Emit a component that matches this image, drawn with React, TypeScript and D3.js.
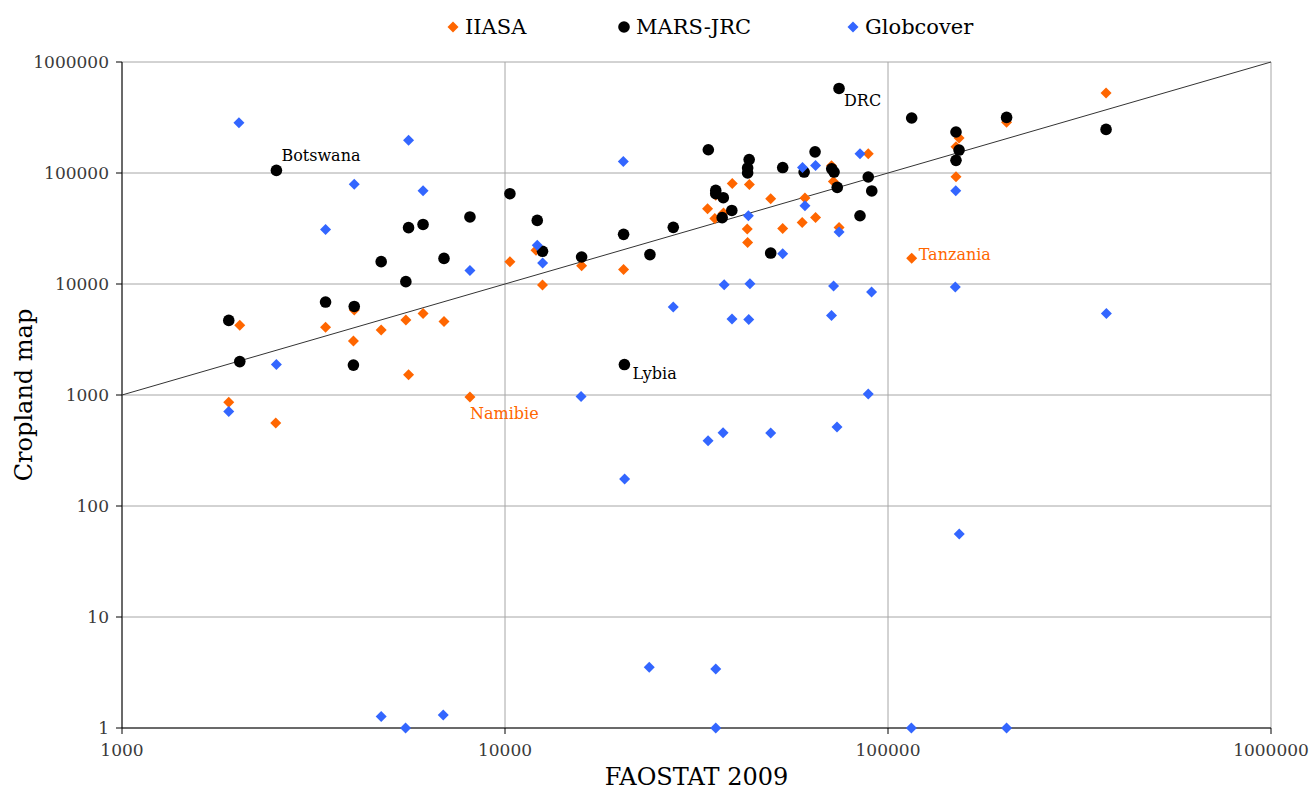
import * as d3 from 'd3';

// FAOSTAT 2009 (x) vs cropland map estimate (y)
const iiasaX = [1900, 2030, 2520, 3400, 4020, 4040, 4750, 5510, 5600, 6110, 6930, 8100, 10300, 12050, 12530, 15850, 20400, 33800, 35300, 35500, 37200, 39200, 43450, 42900, 43000, 49400, 53100, 59700, 60700, 64700, 72000, 71200, 74500, 88800, 115300, 153300, 150500, 150500, 204000, 371000];
const iiasaY = [860, 4240, 560, 4070, 3070, 5830, 3850, 4740, 1520, 5430, 4600, 960, 15900, 20100, 9800, 14600, 13500, 47700, 39000, 63000, 43600, 80600, 78900, 31300, 23700, 58700, 31700, 35900, 59600, 39800, 84000, 116000, 32300, 149000, 17100, 207000, 172000, 92600, 286000, 526000];

const marsX = [1900, 2030, 2530, 3400, 4040, 4020, 4750, 5510, 5600, 6110, 6930, 8100, 10300, 12140, 12530, 15850, 20400, 23900, 27500, 20500, 33950, 35500, 35500, 37150, 39100, 36900, 43400, 43000, 43000, 53100, 49400, 60400, 64500, 71300, 72300, 73700, 84500, 88800, 90700, 115300, 150500, 153300, 150500, 204000, 371000, 74500];
const marsY = [4700, 2000, 105500, 6880, 6280, 1860, 15900, 10500, 32200, 34400, 17000, 40200, 65100, 37400, 19700, 17500, 28000, 18400, 32400, 1880, 162000, 69700, 65100, 59900, 46000, 39600, 132000, 111000, 100000, 112000, 19000, 102000, 155000, 109000, 102000, 74200, 41200, 92000, 68900, 313000, 234000, 161000, 130000, 317000, 247000, 578000];

const globX = [1900, 2020, 2530, 3400, 4040, 4750, 5500, 5600, 6110, 6900, 8100, 12140, 12540, 15800, 20370, 20530, 23800, 27500, 33900, 35500, 35500, 37100, 37350, 39150, 43200, 43300, 43600, 49400, 53100, 59800, 60700, 64700, 71200, 72100, 73600, 74500, 84500, 88800, 90600, 115100, 150300, 149900, 153500, 204000, 371700];
const globY = [710, 284000, 1880, 31000, 79000, 1.27, 1, 197000, 69300, 1.31, 13250, 22300, 15450, 970, 127000, 175, 3.52, 6200, 387, 3.4, 1, 457, 9860, 4840, 41200, 4800, 10060, 455, 18750, 112000, 50700, 117000, 5210, 9590, 515, 29400, 149000, 1020, 8470, 1, 69300, 9400, 56, 1, 5430];

const noteNames = ['Botswana', 'DRC', 'Lybia', 'Namibie', 'Tanzania'];
const noteX = [2530, 74500, 20500, 8100, 115300];
const noteY = [105500, 578000, 1880, 960, 17100];
const noteSeries = ['mars', 'mars', 'mars', 'iiasa', 'iiasa'];

const xTicks = [1000, 10000, 100000, 1000000];
const yTicks = [1, 10, 100, 1000, 10000, 100000, 1000000];

const ORANGE = '#ff6600';
const BLUE = '#3366ff';
const FONT = '"DejaVu Serif", serif';

const W = 1310;
const H = 790;
const left = 122;
const right = 1271;
const top = 62;
const bottom = 728;

const x = d3.scaleLog().domain([1000, 1000000]).range([left, right]);
const y = d3.scaleLog().domain([1, 1000000]).range([bottom, top]);

function diamond(cx: number, cy: number, r: number) {
  return `M${cx},${cy - r}L${cx + r},${cy}L${cx},${cy + r}L${cx - r},${cy}Z`;
}

// offsets for the annotation text relative to its point
const noteDx = [5, 5, 8, 0, 7];
const noteDy = [-9, 18, 14, 22, 2];

export default function App() {
  return (
    <svg
      width={W}
      height={H}
      style={{ position: 'absolute', left: 0, top: 0, background: '#fff' }}
      fontFamily={FONT}
    >
      {/* grid */}
      {xTicks.map((t) => (
        <line key={'gx' + t} x1={x(t)} x2={x(t)} y1={top} y2={bottom} stroke="#a6a6a6" strokeWidth={1} />
      ))}
      {yTicks.map((t) => (
        <line key={'gy' + t} x1={left} x2={right} y1={y(t)} y2={y(t)} stroke="#a6a6a6" strokeWidth={1} />
      ))}

      {/* axes */}
      <line x1={left} x2={left} y1={top} y2={bottom} stroke="#000" />
      <line x1={left} x2={right} y1={bottom} y2={bottom} stroke="#000" />
      {xTicks.map((t) => (
        <g key={'xt' + t}>
          <line x1={x(t)} x2={x(t)} y1={bottom} y2={bottom + 6} stroke="#000" />
          <text x={x(t)} y={bottom + 28} textAnchor="middle" fontSize={17} fill="#3a3a3a">
            {t}
          </text>
        </g>
      ))}
      {yTicks.map((t) => (
        <g key={'yt' + t}>
          <line x1={left - 6} x2={left} y1={y(t)} y2={y(t)} stroke="#000" />
          <text x={left - 13} y={y(t) + 6} textAnchor="end" fontSize={17} fill="#3a3a3a">
            {t}
          </text>
        </g>
      ))}

      {/* 1:1 line */}
      <line x1={x(1000)} y1={y(1000)} x2={x(1000000)} y2={y(1000000)} stroke="#333" strokeWidth={1} />

      {/* series */}
      {iiasaX.map((v, i) => (
        <path key={'i' + i} d={diamond(x(v), y(iiasaY[i]), 5.5)} fill={ORANGE} />
      ))}
      {marsX.map((v, i) => (
        <circle key={'m' + i} cx={x(v)} cy={y(marsY[i])} r={5.8} fill="#000" />
      ))}
      {globX.map((v, i) => (
        <path key={'g' + i} d={diamond(x(v), y(globY[i]), 5.5)} fill={BLUE} />
      ))}

      {/* country notes */}
      {noteNames.map((n, i) => (
        <text
          key={n}
          x={x(noteX[i]) + noteDx[i]}
          y={y(noteY[i]) + noteDy[i]}
          fontSize={16}
          fill={noteSeries[i] === 'iiasa' ? ORANGE : '#000'}
        >
          {n}
        </text>
      ))}

      {/* axis titles */}
      <text x={(left + right) / 2} y={785} textAnchor="middle" fontSize={24} fill="#000">
        FAOSTAT 2009
      </text>
      <text
        transform={`translate(32,${(top + bottom) / 2}) rotate(-90)`}
        textAnchor="middle"
        fontSize={24}
        fill="#000"
      >
        Cropland map
      </text>

      {/* legend */}
      <path d={diamond(453, 27, 5.5)} fill={ORANGE} />
      <text x={465} y={34} fontSize={21}>IIASA</text>
      <circle cx={624} cy={27} r={5.8} fill="#000" />
      <text x={636} y={34} fontSize={21}>MARS-JRC</text>
      <path d={diamond(853, 27, 5.5)} fill={BLUE} />
      <text x={865} y={34} fontSize={21}>Globcover</text>
    </svg>
  );
}
